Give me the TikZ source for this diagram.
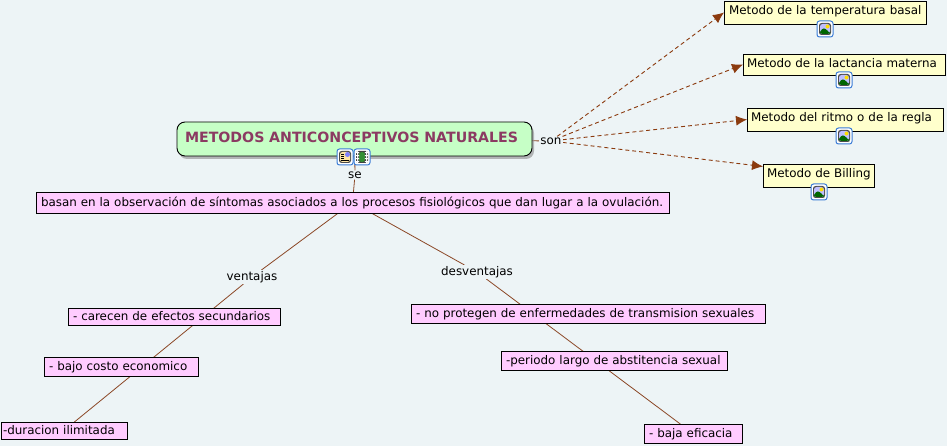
\documentclass[tikz,border=0pt]{standalone}
\usepackage{fontspec}
\setmainfont{DejaVu Sans}
\usetikzlibrary{arrows.meta,shadows,backgrounds}
\definecolor{mapback}{HTML}{EDF4F6}
\definecolor{rootgreen}{HTML}{C6FFC6}
\definecolor{rootname}{HTML}{8B3A62}
\definecolor{notepink}{HTML}{FFCCFF}
\definecolor{noteyellow}{HTML}{FFFFCC}
\definecolor{linkbrown}{HTML}{8B4726}
\definecolor{tipbrown}{HTML}{8B3A0E}
\definecolor{iconblue}{HTML}{3A7BD5}
\tikzset{
	textfont/.style={font=\fontsize{11.9}{14}\selectfont},
	mapbox/.style={draw=black,line width=.9pt,anchor=north west,outer sep=0,inner xsep=5pt,inner ysep=0,
		align=left,text height=10pt,text depth=2pt,textfont},
	pinkbox/.style={mapbox,fill=notepink},
	yellowbox/.style={mapbox,fill=noteyellow,text height=13.5pt,text depth=#1},
	yellowbox/.default=9.5pt,
	linkname/.style={fill=mapback,inner sep=1pt,textfont},
	link/.style={draw=linkbrown,line width=.8pt},
	dashlink/.style={draw=tipbrown,line width=.9pt,dash pattern=on 4pt off 3pt,
		-{Latex[length=11pt,width=10pt,fill=tipbrown]}},
	iconbox/.style={draw=iconblue,line width=1pt,fill=white,rounded corners=2.5pt,
		minimum size=16pt,inner sep=0,outer sep=0,path picture={#1}},
}
\newcommand{\imagepic}{
	\begin{scope}[shift={(path picture bounding box.center)}]
		\fill[black!70] (-6,-6) rectangle (6,6);
		\fill[blue!25!white] (-5,-5) rectangle (5,5);
		\fill[yellow!80!orange] (2.5,-2.5) circle (2);
		\fill[green!40!black] (-5,5) -- (-5,2) -- (-1,-1.5) -- (5,4) -- (5,5) -- cycle;
	\end{scope}}
\newcommand{\notepic}{
	\begin{scope}[shift={(path picture bounding box.center)}]
		\fill[black!70] (-6,-6) rectangle (6,6);
		\fill[noteyellow!80!orange] (-5,-5) rectangle (5,5);
		\fill[blue!50!white] (0,-5) rectangle (5,0);
		\foreach \y in {-3,-1,1,3}{\draw[black,line width=.7pt] (-4,\y) -- (-1,\y);}
		\draw[black,line width=.7pt] (-4,3.5) -- (4,3.5);
	\end{scope}}
\newcommand{\filmpic}{
	\begin{scope}[shift={(path picture bounding box.center)}]
		\fill[black!75] (-6,-6) rectangle (6,6);
		\fill[green!45!black!80] (-3,-5) rectangle (3,5);
		\foreach \y in {-4,-1,2,5}{\fill[white] (-5,\y-.8) rectangle (-4,\y+.2);\fill[white] (4,\y-.8) rectangle (5,\y+.2);}
	\end{scope}}
\begin{document}
\begin{tikzpicture}[x=1pt,y=-1pt]
\useasboundingbox (0,0) rectangle (947,446);

\node[draw=black,line width=.9pt,fill=rootgreen,rounded corners=8pt,text width=339pt,minimum height=34pt,
	outer sep=0,inner xsep=8pt,inner ysep=0,anchor=north west,align=left,drop shadow={shadow xshift=2pt,shadow yshift=-3pt,fill=black!45,opacity=.6},
	text=rootname,text height=10.5pt,text depth=3.5pt,font=\fontsize{14.17}{16}\selectfont\bfseries] (root) at (177,122) {METODOS ANTICONCEPTIVOS NATURALES};

\node[pinkbox,minimum height=21pt,text width=623pt] (main) at (36,192)
	{basan en la observación de síntomas asociados a los procesos fisiológicos que dan lugar a la ovulación.};

% ventajas
\node[pinkbox,minimum height=17pt,text width=202pt] (carecen) at (68,308) {- carecen de efectos secundarios};
\node[pinkbox,minimum height=19pt,text width=144pt] (bajo) at (44,357) {- bajo costo economico};
\node[pinkbox,minimum height=17pt,text width=122pt,inner xsep=2pt] (duracion) at (1,422) {-duracion ilimitada};

% desventajas
\node[pinkbox,minimum height=19pt,text width=344pt] (noprotegen) at (411,304) {- no protegen de enfermedades de transmision sexuales};
\node[pinkbox,minimum height=19pt,text width=216pt] (periodo) at (501,351) {-periodo largo de abstitencia sexual};
\node[pinkbox,minimum height=19pt,text width=88pt] (baja) at (644,424) {- baja eficacia};

% metodos
\node[yellowbox,text width=192pt] (temperatura) at (724,1) {\mbox{Metodo de la temperatura basal}};
\node[yellowbox=7.5pt,text width=194pt,inner xsep=4pt] (lactancia) at (743,54) {Metodo de la lactancia materna};
\node[yellowbox,text width=188pt,inner xsep=4pt] (ritmo) at (747,108) {Metodo del ritmo o de la regla};
\node[yellowbox,text width=103pt,inner xsep=4pt] (billing) at (763,164) {\mbox{Metodo de Billing}};

\node[linkname] (se) at (355,175) {se};
\node[linkname] (son) at (551,141) {son};
\node[linkname] (ventajas) at (252,277) {ventajas};
\node[linkname] (desventajas) at (477,272) {desventajas};

\node[iconbox=\notepic] (rootnote) at (345,157) {};
\node[iconbox=\filmpic] (rootfilm) at (362,157) {};
\node[iconbox=\imagepic] (temperaturapic) at (825,29) {};
\node[iconbox=\imagepic] (lactanciapic) at (844,80) {};
\node[iconbox=\imagepic] (ritmopic) at (844,136) {};
\node[iconbox=\imagepic] (billingpic) at (819,192) {};

\begin{pgfonlayer}{background}
	\fill[mapback] (0,0) rectangle (947,446);
	\draw[link] (root) -- (se);
	\draw[link] (se) -- (main);
	\draw[link] (main) -- (ventajas);
	\draw[link] (main) -- (desventajas);
	\draw[link] (ventajas) -- (duracion);
	\draw[link] (desventajas) -- (baja);
	\draw[link] (root) -- (son);
	\draw[dashlink] (son) -- (temperatura.west);
	\draw[dashlink] (son) -- (lactancia.west);
	\draw[dashlink] (son) -- (ritmo.west);
	\draw[dashlink] (son) -- ([yshift=9pt]billing.west);
\end{pgfonlayer}
\end{tikzpicture}
\end{document}
